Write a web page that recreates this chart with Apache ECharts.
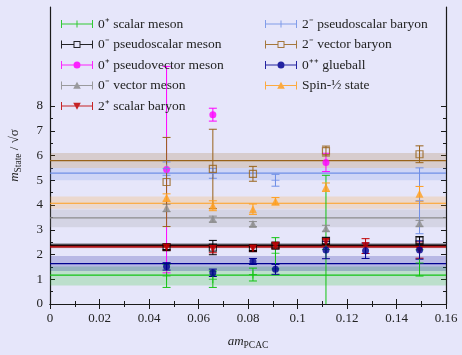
<!DOCTYPE html>
<html>
<head>
<meta charset="utf-8">
<script src="https://cdn.jsdelivr.net/npm/echarts@6/dist/echarts.min.js"></script>
<style>
html,body{margin:0;padding:0;background:#e6e6fa;}
#c{width:462px;height:355px;}
</style>
</head>
<body>
<div id="c"></div>
<script>
// ---- data ----
const xVals = [0.0471, 0.0658, 0.0820, 0.0911, 0.1115, 0.1275, 0.1493];
const xTicks = [0, 0.02, 0.04, 0.06, 0.08, 0.1, 0.12, 0.14, 0.16];
const yTicks = [0, 1, 2, 3, 4, 5, 6, 7, 8];

const seriesNames = ['0⁺ scalar meson', '0⁻ pseudoscalar meson', '0⁺ pseudovector meson', '0⁻ vector meson',
  '2⁺ scalar baryon', '2⁻ pseudoscalar baryon', '2⁻ vector baryon', '0⁺⁺ glueball', 'Spin-½ state'];

const scalarMesonY = [1.13, 1.00, 1.19, 2.05, 2.20, null, 1.66];
const scalarMesonErr = [0.46, 0.33, 0.26, 0.63, 3.00, null, 0.53];
const pseudoscalarMesonY = [2.30, 2.28, 2.26, 2.36, 2.55, null, 2.57];
const pseudoscalarMesonErr = [0.10, 0.29, 0.10, 0.10, 0.12, null, 0.15];
const pseudovectorMesonY = [5.43, 7.65, null, null, 5.72, null, null];
const pseudovectorMesonErr = [4.17, 0.26, null, null, 0.37, null, null];
const vectorMesonY = [3.88, 3.43, 3.23, null, 3.06, null, 3.26];
const vectorMesonErr = [0.15, 0.12, 0.10, null, 0.12, null, 0.12];
const scalarBaryonY = [2.28, 2.22, 2.24, 2.35, 2.51, 2.34, 2.18];
const scalarBaryonErr = [0.12, 0.15, 0.12, 0.12, 0.12, 0.30, 0.33];
const pseudoscalarBaryonY = [5.47, 5.28, null, 5.00, null, null, 4.17];
const pseudoscalarBaryonErr = [0.27, 0.20, null, 0.24, null, null, 1.33];
const vectorBaryonY = [4.93, 5.46, 5.26, null, 6.18, null, 6.05];
const vectorBaryonErr = [1.80, 1.60, 0.30, null, 0.20, null, 0.34];
const glueballY = [1.52, 1.26, 1.72, 1.40, 2.18, 2.15, 2.18];
const glueballErr = [0.15, 0.15, 0.12, 0.20, 0.35, 0.31, 0.37];
const spinHalfY = [4.30, 3.97, 3.83, 4.15, 4.72, null, 4.45];
const spinHalfErr = [0.15, 0.20, 0.21, 0.15, 0.17, null, 0.30];

// constant fits: central value and band
const fitValues = [1.17, 2.37, null, 3.48, 2.31, 5.29, 5.79, 1.63, 4.07];
const fitLow    = [0.75, 2.27, null, 3.10, 2.25, 5.00, 5.50, 1.33, 3.85];
const fitHigh   = [1.52, 2.45, null, 3.82, 2.38, 5.50, 6.10, 1.94, 4.34];

const allY = [scalarMesonY, pseudoscalarMesonY, pseudovectorMesonY, vectorMesonY, scalarBaryonY,
  pseudoscalarBaryonY, vectorBaryonY, glueballY, spinHalfY];
const allErr = [scalarMesonErr, pseudoscalarMesonErr, pseudovectorMesonErr, vectorMesonErr, scalarBaryonErr,
  pseudoscalarBaryonErr, vectorBaryonErr, glueballErr, spinHalfErr];

// ---- style ----
const BG = '#e6e6fa';
const colors = ['#12c412', '#000000', '#ff00ff', '#8c8c8c', '#c00000', '#6f8fe6', '#99631a', '#000090', '#ff9f1f'];
const bandAlpha = [0.2, 0.35, 0.2, 0.2, 0.2, 0.2, 0.2, 0.2, 0.2];
const FONT = 'Liberation Serif';
const X_MIN = 0, X_MAX = 0.16, Y_MIN = 0, Y_MAX = 12;

const caps = 'M0,0H1V8H0Z M31,0H32V8H31Z ';
const fullLine = 'M0,3.5H32V4.5H0Z ';
const brokenLine = 'M0,3.5H12.5V4.5H0Z M19.5,3.5H32V4.5H19.5Z ';
const icons = {
  plus: 'path://' + caps + fullLine + 'M15.5,0.5H16.5V7.5H15.5Z',
  hollowSquare: 'path://' + caps + brokenLine + 'M12.5,0.5H19.5V7.5H12.5Z M13.5,1.5V6.5H18.5V1.5Z',
  circle: 'path://' + caps + fullLine + 'M19.5,4A3.5,3.5,0,1,1,12.5,4A3.5,3.5,0,1,1,19.5,4Z',
  triUp: 'path://' + caps + fullLine + 'M16,0.3L19.8,7.2L12.2,7.2Z',
  triDown: 'path://' + caps + fullLine + 'M12.2,0.8L19.8,0.8L16,7.7Z'
};
const markerKinds = ['plus', 'hollowSquare', 'circle', 'triUp', 'triDown', 'plus', 'hollowSquare', 'circle', 'triUp'];
const plusSymbol = 'path://M0,3.5H8V4.5H0Z M3.5,0H4.5V8H3.5Z';

function hexToRgba(hex, a) {
  const n = parseInt(hex.slice(1), 16);
  return 'rgba(' + ((n >> 16) & 255) + ',' + ((n >> 8) & 255) + ',' + (n & 255) + ',' + a + ')';
}

function markerStyle(i) {
  const k = markerKinds[i];
  const c = colors[i];
  if (k === 'plus') return { symbol: plusSymbol, symbolSize: 8, itemStyle: { color: c } };
  if (k === 'hollowSquare') return { symbol: 'rect', symbolSize: 7, itemStyle: { color: 'rgba(0,0,0,0)', borderColor: c, borderWidth: 1.2 } };
  if (k === 'circle') return { symbol: 'circle', symbolSize: 7, itemStyle: { color: c } };
  if (k === 'triUp') return { symbol: 'triangle', symbolSize: 8, itemStyle: { color: c } };
  return { symbol: 'triangle', symbolSize: 8, symbolRotate: 180, itemStyle: { color: c } };
}

const series = [];

// bands + fit lines
const bandData = [];
fitValues.forEach((f, i) => { if (f !== null) bandData.push([X_MIN, fitLow[i], fitHigh[i], f, i]); });
series.push({
  type: 'custom', name: 'fits', z: 1, silent: true,
  data: bandData,
  encode: { x: 0, y: [1, 2, 3] },
  renderItem: function (params, api) {
    const lo = api.value(1), hi = api.value(2), f = api.value(3), idx = api.value(4);
    const p1 = api.coord([X_MIN, hi]);
    const p2 = api.coord([X_MAX, lo]);
    const pf1 = api.coord([X_MIN, f]);
    const pf2 = api.coord([X_MAX, f]);
    return {
      type: 'group',
      children: [
        { type: 'rect', shape: { x: p1[0], y: p1[1], width: p2[0] - p1[0], height: p2[1] - p1[1] },
          style: { fill: hexToRgba(colors[idx], bandAlpha[idx]) } },
        { type: 'line', shape: { x1: pf1[0], y1: pf1[1], x2: pf2[0], y2: pf2[1] },
          style: { stroke: colors[idx], lineWidth: idx === 1 ? 1.6 : 1.2 } }
      ]
    };
  }
});

// error bars
allY.forEach((ys, i) => {
  const data = [];
  ys.forEach((y, j) => { if (y !== null) data.push([xVals[j], y, allErr[i][j]]); });
  series.push({
    type: 'custom', name: seriesNames[i] + ' err', z: 2, silent: true,
    data: data,
    encode: { x: 0, y: 1 },
    renderItem: function (params, api) {
      const x = api.value(0), y = api.value(1), e = api.value(2);
      let lo = y - e, hi = y + e;
      const loCap = lo >= Y_MIN, hiCap = hi <= Y_MAX;
      lo = Math.max(lo, Y_MIN); hi = Math.min(hi, Y_MAX);
      const pt = api.coord([x, hi]);
      const pb = api.coord([x, lo]);
      const st = { stroke: colors[i], lineWidth: 1 };
      const ch = [{ type: 'line', shape: { x1: pt[0], y1: pt[1], x2: pb[0], y2: pb[1] }, style: st }];
      if (hiCap) ch.push({ type: 'line', shape: { x1: pt[0] - 4, y1: pt[1], x2: pt[0] + 4, y2: pt[1] }, style: st });
      if (loCap) ch.push({ type: 'line', shape: { x1: pb[0] - 4, y1: pb[1], x2: pb[0] + 4, y2: pb[1] }, style: st });
      return { type: 'group', children: ch };
    }
  });
});

// markers
allY.forEach((ys, i) => {
  const data = [];
  ys.forEach((y, j) => { if (y !== null) data.push([xVals[j], y]); });
  series.push(Object.assign({
    type: 'scatter', name: seriesNames[i], z: 3,
    data: data
  }, markerStyle(i)));
});

function legendData(from, to) {
  const out = [];
  for (let i = from; i < to; i++) {
    out.push({ name: seriesNames[i], icon: icons[markerKinds[i]], itemStyle: { color: colors[i], borderWidth: 0, opacity: 0.85 } });
  }
  return out;
}

const legendCommon = {
  orient: 'vertical', padding: 0, itemWidth: 32, itemHeight: 8, itemGap: 6.5,
  selectedMode: false,
  textStyle: { fontFamily: FONT, fontSize: 13.5, color: '#222', lineHeight: 14 },
  itemStyle: { borderWidth: 0 }
};

const axisText = { fontFamily: FONT, fontSize: 13, color: '#222' };
const axisLineStyle = { lineStyle: { color: '#1a1a1a', width: 1.2 } };

const minorY = [];
for (let v = 0.5; v < 8.2; v += 1) minorY.push(v);

const option = {
  backgroundColor: BG,
  animation: false,
  grid: { left: 49, right: 16, top: 7, bottom: 43, show: true, backgroundColor: BG, borderWidth: 0 },
  legend: [
    Object.assign({ left: 61, top: 17, data: legendData(0, 5) }, legendCommon),
    Object.assign({ left: 265, top: 17, data: legendData(5, 9) }, legendCommon)
  ],
  xAxis: [
    {
      type: 'value', min: X_MIN, max: X_MAX, interval: 0.02, position: 'bottom',
      axisLine: axisLineStyle,
      axisTick: { inside: true, length: 5, lineStyle: { color: '#1a1a1a' } },
      minorTick: { show: true, splitNumber: 2, length: 3, lineStyle: { color: '#1a1a1a' } },
      splitLine: { show: false },
      axisLabel: Object.assign({ margin: 8, customValues: xTicks }, axisText),
      name: '{it|am}{sub|PCAC}', nameLocation: 'middle', nameGap: 29,
      nameTextStyle: { rich: {
        it: { fontFamily: FONT, fontStyle: 'italic', fontSize: 13, color: '#222', padding: [0, 0, 0, 0] },
        sub: { fontFamily: FONT, fontSize: 9.5, color: '#222', padding: [7, 0, 0, 0] }
      } }
    },
    {
      type: 'value', min: X_MIN, max: X_MAX, interval: 0.02, position: 'top',
      axisLine: axisLineStyle,
      axisTick: { inside: true, length: 5, lineStyle: { color: '#1a1a1a' } },
      minorTick: { show: true, splitNumber: 2, length: 3, lineStyle: { color: '#1a1a1a' } },
      splitLine: { show: false }, axisLabel: { show: false }
    }
  ],
  yAxis: [
    {
      type: 'value', min: Y_MIN, max: Y_MAX, position: 'left',
      axisLine: axisLineStyle,
      axisTick: { inside: true, length: 5, customValues: yTicks, lineStyle: { color: '#1a1a1a' } },
      splitLine: { show: false },
      axisLabel: Object.assign({ margin: 7, customValues: yTicks }, axisText),
      name: '{it|m}{sub|State}{n| / √σ}', nameLocation: 'middle', nameGap: 27,
      nameTextStyle: { rich: {
        it: { fontFamily: FONT, fontStyle: 'italic', fontSize: 13, color: '#222' },
        sub: { fontFamily: FONT, fontSize: 9.5, color: '#222', padding: [7, 0, 0, 0] },
        n: { fontFamily: FONT, fontSize: 13, color: '#222' }
      } }
    },
    {
      type: 'value', min: Y_MIN, max: Y_MAX, position: 'left',
      axisLine: { show: false },
      axisTick: { inside: true, length: 3, customValues: minorY, lineStyle: { color: '#1a1a1a' } },
      splitLine: { show: false }, axisLabel: { show: false }
    },
    {
      type: 'value', min: Y_MIN, max: Y_MAX, position: 'right',
      axisLine: axisLineStyle,
      axisTick: { inside: true, length: 5, customValues: yTicks, lineStyle: { color: '#1a1a1a' } },
      splitLine: { show: false }, axisLabel: { show: false }
    },
    {
      type: 'value', min: Y_MIN, max: Y_MAX, position: 'right',
      axisLine: { show: false },
      axisTick: { inside: true, length: 3, customValues: minorY, lineStyle: { color: '#1a1a1a' } },
      splitLine: { show: false }, axisLabel: { show: false }
    }
  ],
  series: series
};

const chart = echarts.init(document.getElementById('c'), null, { renderer: 'canvas' });
chart.setOption(option);
</script>
</body>
</html>
